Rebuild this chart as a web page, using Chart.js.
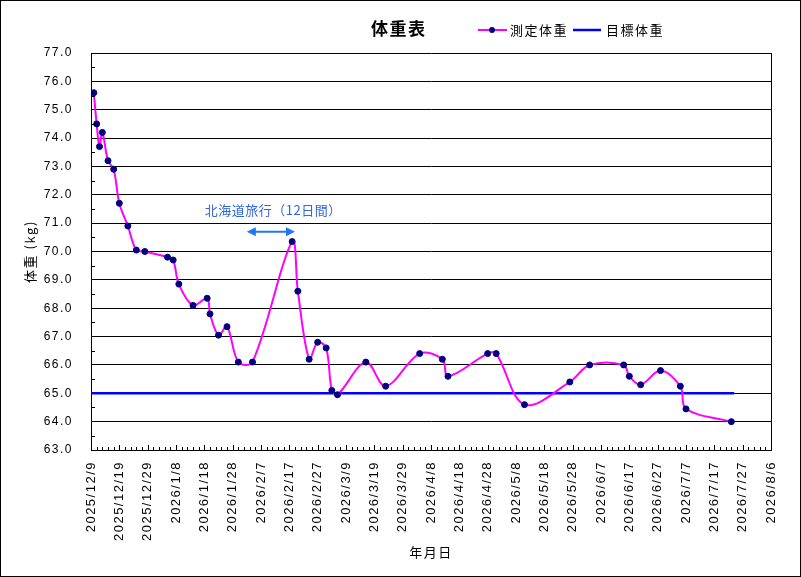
<!DOCTYPE html>
<html>
<head>
<meta charset="utf-8">
<script src="https://cdn.jsdelivr.net/npm/chart.js@4.4.1/dist/chart.umd.min.js"></script>
<style>
  html, body { margin: 0; padding: 0; background: #fff; }
  #wrap { width: 801px; height: 577px; }
</style>
</head>
<body>
<div id="wrap"><canvas id="weightChart" width="801" height="577"></canvas></div>
<script>
// measured weights
const dates = ['2025/12/10', '2025/12/11', '2025/12/12', '2025/12/13', '2025/12/15', '2025/12/17', '2025/12/19',
  '2025/12/22', '2025/12/25', '2025/12/28', '2026/1/5', '2026/1/7', '2026/1/9', '2026/1/14', '2026/1/19',
  '2026/1/20', '2026/1/23', '2026/1/26', '2026/1/30', '2026/2/4', '2026/2/18', '2026/2/20', '2026/2/24',
  '2026/2/27', '2026/3/2', '2026/3/4', '2026/3/6', '2026/3/16', '2026/3/23', '2026/4/4', '2026/4/12',
  '2026/4/14', '2026/4/28', '2026/5/1', '2026/5/11', '2026/5/27', '2026/6/3', '2026/6/15', '2026/6/17',
  '2026/6/21', '2026/6/28', '2026/7/5', '2026/7/7', '2026/7/23'];
const weights = [75.6, 74.5, 73.7, 74.2, 73.2, 72.9, 71.7, 70.9, 70.05, 70.0, 69.8, 69.7, 68.85, 68.1, 68.35,
  67.8, 67.05, 67.35, 66.1, 66.1, 70.35, 68.6, 66.2, 66.8, 66.6, 65.1, 64.95, 66.1, 65.25, 66.4, 66.2,
  65.6, 66.4, 66.4, 64.6, 65.4, 66.0, 66.0, 65.6, 65.3, 65.8, 65.25, 64.45, 64.0];

// target weight line
const targetDates = ['2025/12/9', '2026/7/24'];
const targetWeights = [65.0, 65.0];

// x axis tick labels (every 10 days)
const xTickLabels = ['2025/12/9', '2025/12/19', '2025/12/29', '2026/1/8', '2026/1/18', '2026/1/28', '2026/2/7',
  '2026/2/17', '2026/2/27', '2026/3/9', '2026/3/19', '2026/3/29', '2026/4/8', '2026/4/18', '2026/4/28',
  '2026/5/8', '2026/5/18', '2026/5/28', '2026/6/7', '2026/6/17', '2026/6/27', '2026/7/7', '2026/7/17',
  '2026/7/27', '2026/8/6'];
const yMin = 63, yMax = 77;

// trip note
const tripText = '北海道旅行（12日間）';
const tripArrow = ['2026/2/2', '2026/2/19'];
const tripArrowY = 70.7;
const tripTextAt = ['2026/2/11', 71.45];

const toDay = s => {
  const [y, m, d] = s.split('/').map(Number);
  const [y0, m0, d0] = xTickLabels[0].split('/').map(Number);
  return Math.round((Date.UTC(y, m - 1, d) - Date.UTC(y0, m0 - 1, d0)) / 864e5);
};

const SANS = '"Liberation Sans", Arial, sans-serif';
const CJK = '"Noto Sans CJK JP", sans-serif';

const spacingPlugin = {
  id: 'spacing',
  beforeLayout(chart) { chart.ctx.letterSpacing = '1.5px'; },
  beforeDraw(chart) {
    const ctx = chart.ctx;
    ctx.letterSpacing = '1.5px';
    ctx.save();
    ctx.fillStyle = '#fff';
    ctx.fillRect(0, 0, chart.width, chart.height);
    ctx.restore();
  }
};

const decorPlugin = {
  id: 'decor',
  afterDraw(chart) {
    const { ctx, chartArea: a, scales: { x, y } } = chart;
    ctx.save();
    ctx.strokeStyle = '#000';
    ctx.lineWidth = 1;
    // right frame of plot
    ctx.beginPath();
    ctx.moveTo(Math.round(a.right) + 0.5, a.top);
    ctx.lineTo(Math.round(a.right) + 0.5, a.bottom);
    ctx.stroke();
    // inner tick marks
    ctx.beginPath();
    for (let v = x.min; v <= x.max; v += 2) {
      const px = Math.round(x.getPixelForValue(v)) + 0.5;
      const len = v % 10 === 0 ? 5 : 3;
      ctx.moveTo(px, a.bottom);
      ctx.lineTo(px, a.bottom - len);
    }
    for (let v = yMin + 0.5; v < yMax; v += 1) {
      const py = Math.round(y.getPixelForValue(v)) + 0.5;
      ctx.moveTo(a.left, py);
      ctx.lineTo(a.left + 4, py);
    }
    ctx.stroke();

    // trip arrow
    const ax1 = x.getPixelForValue(toDay(tripArrow[0]));
    const ax2 = x.getPixelForValue(toDay(tripArrow[1]));
    const ay = y.getPixelForValue(tripArrowY);
    ctx.strokeStyle = '#1e78f0';
    ctx.fillStyle = '#1e78f0';
    ctx.lineWidth = 2;
    ctx.beginPath();
    ctx.moveTo(ax1 + 6, ay);
    ctx.lineTo(ax2 - 6, ay);
    ctx.stroke();
    ctx.beginPath();
    ctx.moveTo(ax1, ay); ctx.lineTo(ax1 + 9, ay - 4.5); ctx.lineTo(ax1 + 9, ay + 4.5); ctx.closePath();
    ctx.moveTo(ax2, ay); ctx.lineTo(ax2 - 9, ay - 4.5); ctx.lineTo(ax2 - 9, ay + 4.5); ctx.closePath();
    ctx.fill();

    ctx.letterSpacing = '0.5px';
    ctx.fillStyle = '#3366dd';
    ctx.font = '13px ' + CJK;
    ctx.textAlign = 'center';
    ctx.textBaseline = 'middle';
    ctx.fillText(tripText, x.getPixelForValue(toDay(tripTextAt[0])) + 1, y.getPixelForValue(tripTextAt[1]));

    // title and legend
    ctx.letterSpacing = '1.5px';
    ctx.fillStyle = '#000';
    ctx.textAlign = 'left';
    ctx.font = 'bold 17px ' + CJK;
    ctx.fillText('体重表', 371, 29);

    ctx.strokeStyle = '#ff00ff';
    ctx.lineWidth = 2;
    ctx.beginPath(); ctx.moveTo(478, 30); ctx.lineTo(507, 30); ctx.stroke();
    ctx.fillStyle = '#000080';
    ctx.beginPath(); ctx.arc(492, 30, 3, 0, Math.PI * 2); ctx.fill();
    ctx.strokeStyle = '#0000ff';
    ctx.lineWidth = 2.5;
    ctx.beginPath(); ctx.moveTo(573, 30); ctx.lineTo(601, 30); ctx.stroke();
    ctx.fillStyle = '#000';
    ctx.font = '13px ' + CJK;
    ctx.fillText('測定体重', 510, 30);
    ctx.fillText('目標体重', 606, 30);

    // outer frame
    ctx.strokeStyle = '#000';
    ctx.lineWidth = 1;
    ctx.strokeRect(0.5, 0.5, chart.width - 1, chart.height - 1);
    ctx.restore();
  }
};

new Chart(document.getElementById('weightChart').getContext('2d'), {
  type: 'line',
  data: {
    datasets: [{
      label: '測定体重',
      data: dates.map((d, i) => ({ x: toDay(d), y: weights[i] })),
      borderColor: '#ff00ff',
      borderWidth: 2,
      tension: 0.35,
      pointRadius: 3,
      pointBackgroundColor: '#000080',
      pointBorderColor: '#000080',
      pointBorderWidth: 1
    }, {
      label: '目標体重',
      data: targetDates.map((d, i) => ({ x: toDay(d), y: targetWeights[i] })),
      borderColor: '#0000ff',
      borderWidth: 2.5,
      pointRadius: 0,
      tension: 0
    }]
  },
  options: {
    responsive: false,
    animation: false,
    events: [],
    layout: { padding: { top: 53, right: 30, left: 0, bottom: 0 } },
    plugins: { legend: { display: false }, title: { display: false }, tooltip: { enabled: false } },
    scales: {
      x: {
        type: 'linear',
        min: 0,
        max: 240,
        afterFit: s => { s.height = 127; },
        grid: { display: false, drawTicks: false },
        border: { display: true, color: '#000', width: 1 },
        ticks: {
          stepSize: 10,
          autoSkip: false,
          maxRotation: 90,
          minRotation: 90,
          padding: 11,
          color: '#000',
          font: { family: SANS, size: 13 },
          callback: v => xTickLabels[Math.round(v / 10)]
        },
        title: { display: true, text: '年月日', color: '#000', font: { family: CJK, size: 13 }, padding: { top: 0, bottom: 17 } }
      },
      y: {
        min: yMin,
        max: yMax,
        afterFit: s => { s.width = 91; },
        grid: { color: '#000', lineWidth: 1, drawTicks: false },
        border: { display: true, color: '#000', width: 1 },
        ticks: {
          stepSize: 1,
          padding: 18,
          color: '#000',
          font: { family: SANS, size: 12 },
          callback: v => v.toFixed(1)
        },
        title: { display: true, text: '体重 (kg)', color: '#000', font: { family: CJK, size: 13 }, padding: { top: 22, bottom: 0 } }
      }
    }
  },
  plugins: [spacingPlugin, decorPlugin]
});
</script>
</body>
</html>
